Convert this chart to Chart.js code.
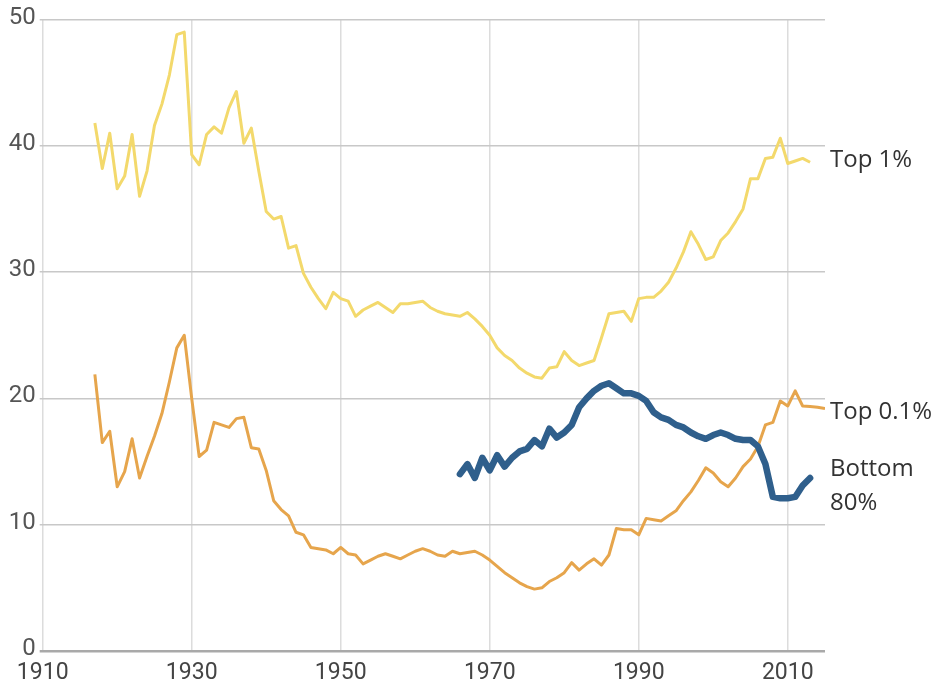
<!DOCTYPE html>
<html>
<head>
<meta charset="utf-8">
<script src="https://cdn.jsdelivr.net/npm/chart.js@4"></script>
<style>
  html, body { margin: 0; padding: 0; background: #fff; }
  #wrap { width: 940px; height: 683px; }
</style>
</head>
<body>
<div id="wrap"><canvas id="shareChart" width="940" height="683"></canvas></div>
<script>
// values, one per year
const top1Start = 1917;
const top1Values = [
  41.8, 38.2, 41.0, 36.6, 37.6, 40.9, 36.0, 38.0, 41.6, 43.3,   // 1917-1926
  45.6, 48.8, 49.0, 39.3, 38.5, 40.9, 41.5, 41.0, 43.0, 44.3,   // 1927-1936
  40.2, 41.4, 38.0, 34.8, 34.2, 34.4, 31.9, 32.1, 29.9, 28.8,   // 1937-1946
  27.9, 27.1, 28.4, 27.9, 27.7, 26.5, 27.0, 27.3, 27.6, 27.2,   // 1947-1956
  26.8, 27.5, 27.5, 27.6, 27.7, 27.2, 26.9, 26.7, 26.6, 26.5,   // 1957-1966
  26.8, 26.3, 25.7, 25.0, 24.0, 23.4, 23.0, 22.4, 22.0, 21.7,   // 1967-1976
  21.6, 22.4, 22.5, 23.7, 23.0, 22.6, 22.8, 23.0, 24.8, 26.7,   // 1977-1986
  26.8, 26.9, 26.1, 27.9, 28.0, 28.0, 28.5, 29.2, 30.3, 31.6,   // 1987-1996
  33.2, 32.2, 31.0, 31.2, 32.5, 33.1, 34.0, 35.0, 37.4, 37.4,   // 1997-2006
  39.0, 39.1, 40.6, 38.6, 38.8, 39.0, 38.7                      // 2007-2013
];

const top01Start = 1917;
const top01Values = [
  21.9, 16.5, 17.4, 13.0, 14.2, 16.8, 13.7, 15.4, 17.0, 18.8,   // 1917-1926
  21.3, 24.0, 25.0, 20.0, 15.4, 15.9, 18.1, 17.9, 17.7, 18.4,   // 1927-1936
  18.5, 16.1, 16.0, 14.3, 11.9, 11.2, 10.7, 9.4, 9.2, 8.2,      // 1937-1946
  8.1, 8.0, 7.7, 8.2, 7.7, 7.6, 6.9, 7.2, 7.5, 7.7,             // 1947-1956
  7.5, 7.3, 7.6, 7.9, 8.1, 7.9, 7.6, 7.5, 7.9, 7.7,             // 1957-1966
  7.8, 7.9, 7.6, 7.2, 6.7, 6.2, 5.8, 5.4, 5.1, 4.9,             // 1967-1976
  5.0, 5.5, 5.8, 6.2, 7.0, 6.4, 6.9, 7.3, 6.8, 7.6,             // 1977-1986
  9.7, 9.6, 9.6, 9.2, 10.5, 10.4, 10.3, 10.7, 11.1, 11.9,       // 1987-1996
  12.6, 13.5, 14.5, 14.1, 13.4, 13.0, 13.7, 14.6, 15.2, 16.2,   // 1997-2006
  17.9, 18.1, 19.8, 19.4, 20.6, 19.4, 19.35, 19.3, 19.2         // 2007-2015
];

const bottom80Start = 1966;
const bottom80Values = [
  14.0, 14.8, 13.7, 15.3, 14.3, 15.5, 14.6, 15.3, 15.8, 16.0,   // 1966-1975
  16.7, 16.2, 17.6, 16.9, 17.3, 17.9, 19.3, 20.0, 20.6, 21.0,   // 1976-1985
  21.2, 20.8, 20.4, 20.4, 20.2, 19.8, 18.9, 18.5, 18.3, 17.9,   // 1986-1995
  17.7, 17.3, 17.0, 16.8, 17.1, 17.3, 17.1, 16.8, 16.7, 16.7,   // 1996-2005
  16.2, 14.8, 12.2, 12.1, 12.1, 12.2, 13.1, 13.7                // 2006-2013
];

const seriesNames = ['Top 1%', 'Top 0.1%', 'Bottom 80%'];
const xTicks = [1910, 1930, 1950, 1970, 1990, 2010];
const yTicks = [0, 10, 20, 30, 40, 50];

function toPoints(start, values) {
  return values.map((v, i) => ({ x: start + i, y: v }));
}

// names written at the right end of each line
const endLabels = {
  id: 'endLabels',
  afterDatasetsDraw(chart) {
    const { ctx, chartArea, scales } = chart;
    const x = chartArea.right + 5;
    const yScale = scales.y;
    ctx.save();
    ctx.font = '24px "Open Sans", Roboto, sans-serif';
    ctx.fillStyle = '#333';
    ctx.textAlign = 'left';
    ctx.textBaseline = 'middle';
    ctx.fillText(seriesNames[0], x, yScale.getPixelForValue(top1Values[top1Values.length - 1]) - 2);
    ctx.fillText(seriesNames[1], x, yScale.getPixelForValue(top01Values[top01Values.length - 1]) + 4);
    const yb = yScale.getPixelForValue(bottom80Values[bottom80Values.length - 1]);
    const parts = seriesNames[2].split(' ');
    ctx.fillText(parts[0], x, yb - 9);
    ctx.fillText(parts[1], x, yb + 25);
    ctx.restore();
  }
};

let shareChart;

function drawChart() {
  const ctx = document.getElementById('shareChart').getContext('2d');
  shareChart = new Chart(ctx, {
    type: 'line',
    data: {
      datasets: [
        {
          label: seriesNames[0],
          data: toPoints(top1Start, top1Values),
          borderColor: '#f3d96c',
          borderWidth: 3,
          pointRadius: 0,
          tension: 0,
          borderJoinStyle: 'round',
          order: 2
        },
        {
          label: seriesNames[1],
          data: toPoints(top01Start, top01Values),
          borderColor: '#e6a54c',
          borderWidth: 3,
          pointRadius: 0,
          tension: 0,
          borderJoinStyle: 'round',
          order: 1
        },
        {
          label: seriesNames[2],
          data: toPoints(bottom80Start, bottom80Values),
          borderColor: '#2f5f8c',
          borderWidth: 6.5,
          pointRadius: 0,
          tension: 0,
          borderJoinStyle: 'round',
          borderCapStyle: 'round',
          order: 0
        }
      ]
    },
    options: {
      responsive: false,
      animation: false,
      events: [],
      layout: { padding: { top: 19.5, right: 115, bottom: 0, left: 0 } },
      scales: {
        x: {
          type: 'linear',
          min: 1910,
          max: 2015,
          afterBuildTicks: s => { s.ticks = xTicks.map(v => ({ value: v })); },
          afterFit: s => { s.height = 32; },
          ticks: {
            callback: v => String(v),
            color: '#444',
            font: { family: 'Roboto, sans-serif', size: 23 },
            padding: 8,
            maxRotation: 0,
            autoSkip: false
          },
          grid: { color: '#dcdcdc', lineWidth: 1.5, drawTicks: false },
          border: { display: false }
        },
        y: {
          min: 0,
          max: 50,
          afterBuildTicks: s => { s.ticks = yTicks.map(v => ({ value: v })); },
          afterFit: s => { s.width = 42.7; },
          ticks: {
            color: '#555',
            font: { family: 'Roboto, sans-serif', size: 24 },
            padding: 4,
            labelOffset: -2
          },
          grid: {
            color: c => c.tick && c.tick.value === 0 ? '#a9a9a9' : '#c8c8c8',
            lineWidth: c => c.tick && c.tick.value === 0 ? 2.5 : 1.5,
            tickLength: 3
          },
          border: { display: false }
        }
      },
      plugins: {
        legend: { display: false },
        tooltip: { enabled: false }
      }
    },
    plugins: [endLabels]
  });
}

// make sure the canvas fonts are ready before the first paint
Promise.all([
  document.fonts.load('20px Roboto'),
  document.fonts.load('24px "Open Sans"')
]).then(drawChart, drawChart);
</script>
</body>
</html>
